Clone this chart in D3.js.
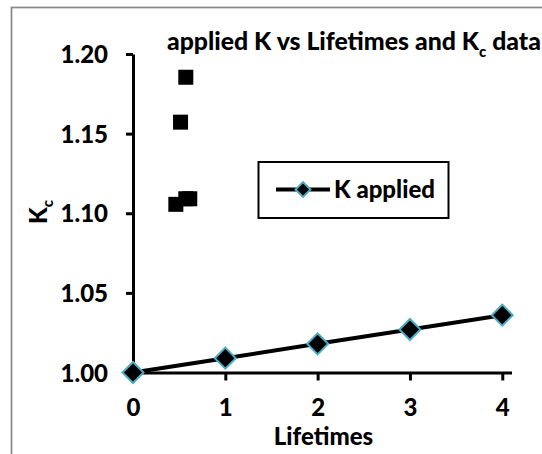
<!DOCTYPE html>
<html>
<head>
<meta charset="utf-8">
<script src="https://cdn.jsdelivr.net/npm/d3@7"></script>
<style>
  body { margin: 0; background: #fff; }
  #chart { width: 542px; height: 454px; }
  text { font-family: Lato, "Open Sans", sans-serif; font-weight: 900; fill: #000; }
</style>
</head>
<body>
<div id="chart"></div>
<script>
// K applied series
const lifetimes = [0, 1, 2, 3, 4];
const kApplied = [1.000, 1.009, 1.018, 1.027, 1.036];

// Kc data (black squares)
const kcLifetimes = [0.572, 0.515, 0.464, 0.572, 0.615];
const kcValues = [1.1854, 1.1572, 1.1056, 1.1091, 1.1091];

const xTicks = [0, 1, 2, 3, 4];
const yTicks = [1.00, 1.05, 1.10, 1.15, 1.20];

function renderChart(containerId) {
  const container = d3.select(`#${containerId}`);
  container.selectAll("*").remove();

  const width = 542;
  const height = 454;

  const svg = container.append("svg")
    .attr("width", width)
    .attr("height", height);

  // outer chart border (right and bottom fall outside the picture)
  svg.append("rect")
    .attr("x", 11.5)
    .attr("y", 7.5)
    .attr("width", 600)
    .attr("height", 600)
    .attr("fill", "none")
    .attr("stroke", "#878787")
    .attr("stroke-width", 1.7);

  const x = d3.scaleLinear()
    .domain([0, 4.1])
    .range([133, 511.5]);

  const y = d3.scaleLinear()
    .domain([1.0, 1.2])
    .range([372.5, 54]);

  // y axis
  const yAxis = svg.append("g")
    .attr("transform", `translate(${x(0)},0)`)
    .call(d3.axisLeft(y).tickValues(yTicks).tickSize(7).tickSizeOuter(0).tickFormat(d3.format(".2f")));
  yAxis.select(".domain").attr("stroke-width", 3);
  yAxis.selectAll(".tick line").attr("stroke-width", 3);
  yAxis.selectAll(".tick text")
    .attr("x", -25)
    .attr("dy", "0.36em")
    .style("font-size", "24px");

  // x axis
  const xAxis = svg.append("g")
    .attr("transform", `translate(0,${y(1.0)})`)
    .call(d3.axisBottom(x).tickValues(xTicks).tickSize(8).tickSizeOuter(0).tickFormat(d3.format("d")));
  xAxis.select(".domain").attr("stroke-width", 3);
  xAxis.selectAll(".tick line").attr("stroke-width", 3);
  xAxis.selectAll(".tick text")
    .attr("y", 26)
    .attr("dy", "0.71em")
    .style("font-size", "24px");

  // Kc squares
  const sq = 15;
  svg.append("g")
    .selectAll("rect")
    .data(kcLifetimes.map((d, i) => ({ x: d, y: kcValues[i] })))
    .join("rect")
    .attr("x", d => x(d.x) - sq / 2)
    .attr("y", d => y(d.y) - sq / 2)
    .attr("width", sq)
    .attr("height", sq)
    .attr("fill", "#000");

  // K applied line
  const series = lifetimes.map((d, i) => ({ x: d, y: kApplied[i] }));
  const line = d3.line().x(d => x(d.x)).y(d => y(d.y));

  svg.append("path")
    .datum(series)
    .attr("d", line)
    .attr("fill", "none")
    .attr("stroke", "#000")
    .attr("stroke-width", 4);

  const diamond = d3.symbol().type(d3.symbolSquare).size(220);
  svg.append("g")
    .selectAll("path")
    .data(series)
    .join("path")
    .attr("d", diamond)
    .attr("transform", d => `translate(${x(d.x)},${y(d.y)}) rotate(45)`)
    .attr("fill", "#000")
    .attr("stroke", "#4bacc6")
    .attr("stroke-width", 2);

  // legend
  const legend = svg.append("g");
  legend.append("rect")
    .attr("x", 258.5)
    .attr("y", 162)
    .attr("width", 190)
    .attr("height", 56)
    .attr("fill", "#fff")
    .attr("stroke", "#000")
    .attr("stroke-width", 2);
  legend.append("line")
    .attr("x1", 276)
    .attr("x2", 330)
    .attr("y1", 189.5)
    .attr("y2", 189.5)
    .attr("stroke", "#000")
    .attr("stroke-width", 4);
  legend.append("path")
    .attr("d", d3.symbol().type(d3.symbolSquare).size(110))
    .attr("transform", "translate(303,189.5) rotate(45)")
    .attr("fill", "#000")
    .attr("stroke", "#4bacc6")
    .attr("stroke-width", 2);
  legend.append("text")
    .attr("x", 334)
    .attr("y", 198)
    .style("font-size", "24px")
    .text("K applied");

  // title
  const title = svg.append("text")
    .attr("x", 167)
    .attr("y", 50)
    .style("font-size", "24.8px");
  title.append("tspan").text("applied K vs Lifetimes and K");
  title.append("tspan").attr("dy", 7).style("font-size", "15px").text("c");
  title.append("tspan").attr("dy", -7).text(" data");

  // axis titles
  svg.append("text")
    .attr("x", 323.5)
    .attr("y", 445)
    .attr("text-anchor", "middle")
    .style("font-size", "24px")
    .text("Lifetimes");

  const yLabel = svg.append("text")
    .attr("transform", "translate(47,224) rotate(-90)")
    .style("font-size", "24px");
  yLabel.append("tspan").text("K");
  yLabel.append("tspan").attr("dy", 6).style("font-size", "15px").text("c");
}

document.addEventListener("DOMContentLoaded", () => {
  renderChart("chart");
});
</script>
</body>
</html>
